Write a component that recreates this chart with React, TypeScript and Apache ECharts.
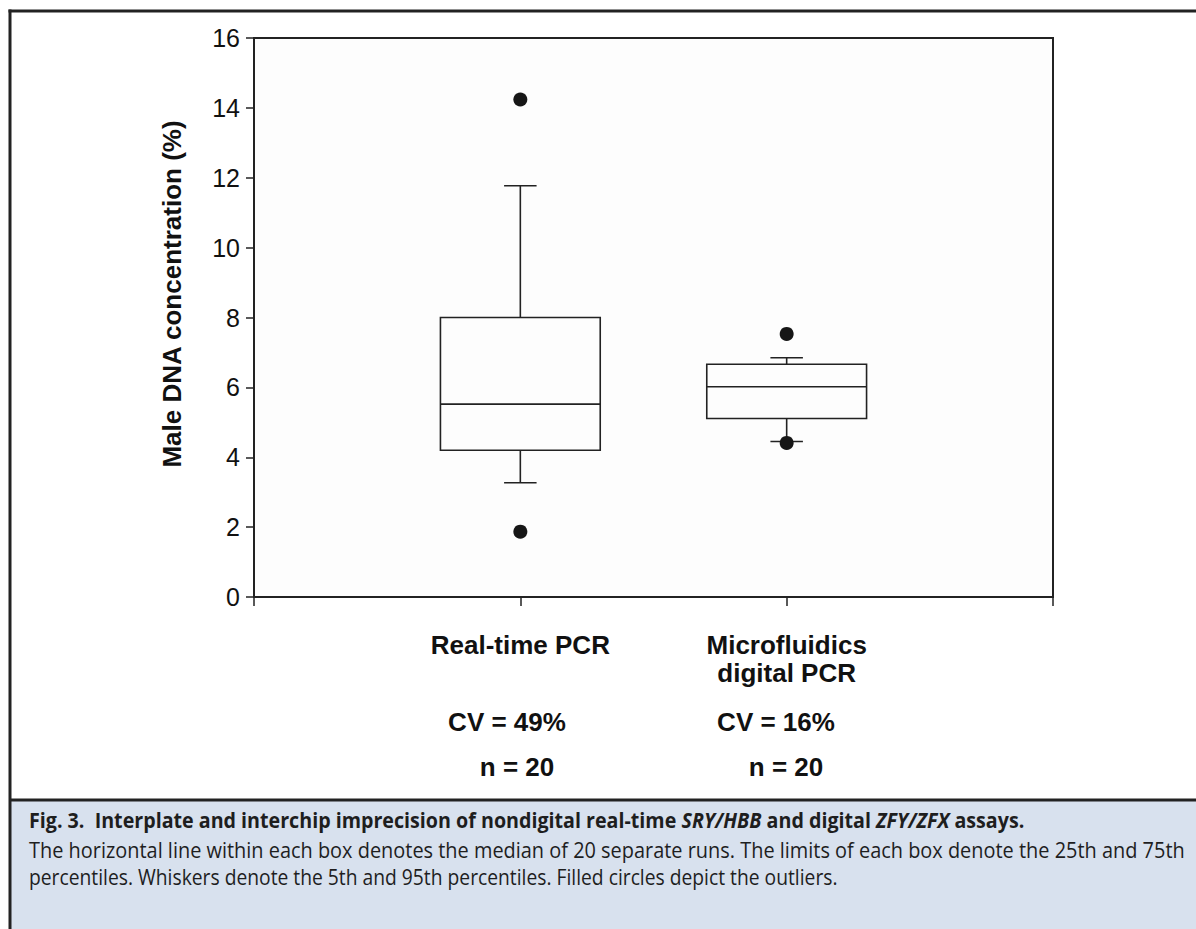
import React, { useEffect, useRef } from "react";
import * as echarts from "echarts";

// ---- data ----
const categories = ["Real-time PCR", "Microfluidics\ndigital PCR"];
const positions = [1, 2];
const whiskerLow = [3.27, 4.45];
const q1 = [4.2, 5.11];
const median = [5.52, 6.02];
const q3 = [8.0, 6.66];
const whiskerHigh = [11.77, 6.85];
const outlierPos = [1, 1, 2, 2];
const outlierVal = [14.24, 1.87, 7.53, 4.41];
const cvLabels = ["CV = 49%", "CV = 16%"];
const nLabels = ["n = 20", "n = 20"];
const yAxisTitle = "Male DNA concentration (%)";
const captionTitleParts: [string, string][] = [
  ["b", "Fig. 3.  Interplate and interchip imprecision of nondigital real-time "],
  ["bi", "SRY/HBB"],
  ["b", " and digital "],
  ["bi", "ZFY/ZFX"],
  ["b", " assays."],
];
const captionLine2 =
  "The horizontal line within each box denotes the median of 20 separate runs. The limits of each box denote the 25th and 75th";
const captionLine3 =
  "percentiles. Whiskers denote the 5th and 95th percentiles. Filled circles depict the outliers.";

const W = 1196;
const H = 929;
const CAP_FONT = "'Open Sans', 'Noto Sans', sans-serif";
const CHART_FONT = "'Liberation Sans', Arial, sans-serif";

function measure(font: string, text: string): number {
  const c = document.createElement("canvas").getContext("2d");
  if (!c) return text.length * 10;
  c.font = font;
  return c.measureText(text).width;
}

export default function App() {
  const ref = useRef<HTMLDivElement>(null);
  useEffect(() => {
    document.body.style.margin = "0";
    if (!ref.current) return;
    const chart = echarts.init(ref.current, undefined, { renderer: "svg" });

    const capSize = 22;
    const titleW = captionTitleParts.reduce(
      (s, [k, t]) =>
        s + measure(`${k === "bi" ? "italic " : ""}bold ${capSize}px ${CAP_FONT}`, t),
      0
    );
    const titleScale = 995 / titleW;
    const l2Scale = 1156 / measure(`${capSize}px ${CAP_FONT}`, captionLine2);
    const l3Scale = 809 / measure(`${capSize}px ${CAP_FONT}`, captionLine3);

    const boxData = positions.map((p, i) => [p, whiskerLow[i], q1[i], median[i], q3[i], whiskerHigh[i]]);
    const outlierData = outlierPos.map((p, i) => [p, outlierVal[i]]);

    const lineStyle = { stroke: "#222", lineWidth: 1.6 };

    const option: any = {
      animation: false,
      backgroundColor: "#ffffff",
      grid: {
        left: 254,
        right: W - 1053,
        top: 38,
        bottom: H - 597,
        show: true,
        borderColor: "#222",
        borderWidth: 2,
        backgroundColor: "#fdfdfd",
      },
      xAxis: {
        type: "value",
        min: 0,
        max: 3,
        interval: 1,
        splitLine: { show: false },
        axisLine: { show: true, lineStyle: { color: "#222", width: 2 } },
        axisTick: { show: true, inside: false, length: 9, lineStyle: { color: "#222", width: 1.5 } },
        axisLabel: {
          show: true,
          margin: 34,
          fontSize: 26,
          lineHeight: 28,
          fontWeight: "bold",
          fontFamily: CHART_FONT,
          color: "#111",
          formatter: (v: number) => {
            const idx = positions.indexOf(v);
            return idx >= 0 ? categories[idx] : "";
          },
        },
      },
      yAxis: {
        type: "value",
        min: 0,
        max: 16,
        interval: 2,
        splitLine: { show: false },
        axisLine: { show: true, lineStyle: { color: "#222", width: 2 } },
        axisTick: { show: true, inside: false, length: 8, lineStyle: { color: "#222", width: 1.5 } },
        axisLabel: {
          margin: 14,
          fontSize: 25,
          fontFamily: CHART_FONT,
          color: "#111",
          padding: [9, 0, 0, 0],
        },
      },
      series: [
        {
          type: "custom",
          data: boxData,
          encode: { x: 0, y: [1, 2, 3, 4, 5] },
          renderItem: (params: any, api: any) => {
            const x = api.value(0);
            const lo = api.value(1);
            const a = api.value(2);
            const m = api.value(3);
            const b = api.value(4);
            const hi = api.value(5);
            const hw = 0.3;
            const cw = 0.061;
            const tl = api.coord([x - hw, b]);
            const br = api.coord([x + hw, a]);
            const mL = api.coord([x - hw, m]);
            const mR = api.coord([x + hw, m]);
            const top = api.coord([x, b]);
            const hiP = api.coord([x, hi]);
            const bot = api.coord([x, a]);
            const loP = api.coord([x, lo]);
            const capHL = api.coord([x - cw, hi]);
            const capHR = api.coord([x + cw, hi]);
            const capLL = api.coord([x - cw, lo]);
            const capLR = api.coord([x + cw, lo]);
            return {
              type: "group",
              children: [
                {
                  type: "rect",
                  shape: { x: tl[0], y: tl[1], width: br[0] - tl[0], height: br[1] - tl[1] },
                  style: { fill: "none", ...lineStyle },
                },
                { type: "line", shape: { x1: mL[0], y1: mL[1], x2: mR[0], y2: mR[1] }, style: lineStyle },
                { type: "line", shape: { x1: top[0], y1: top[1], x2: hiP[0], y2: hiP[1] }, style: lineStyle },
                { type: "line", shape: { x1: capHL[0], y1: capHL[1], x2: capHR[0], y2: capHR[1] }, style: lineStyle },
                { type: "line", shape: { x1: bot[0], y1: bot[1], x2: loP[0], y2: loP[1] }, style: lineStyle },
                { type: "line", shape: { x1: capLL[0], y1: capLL[1], x2: capLR[0], y2: capLR[1] }, style: lineStyle },
              ],
            };
          },
          z: 2,
        },
        {
          type: "scatter",
          data: outlierData,
          symbol: "circle",
          symbolSize: 14,
          itemStyle: { color: "#161616", opacity: 1 },
          z: 3,
        },
      ],
      graphic: [
        // caption background
        {
          type: "rect",
          shape: { x: 10, y: 800, width: W - 10, height: H - 800 },
          style: { fill: "#d8e1ee" },
          z: -10,
        },
        // frame lines
        { type: "line", shape: { x1: 8.5, y1: 11, x2: W, y2: 11 }, style: { stroke: "#222", lineWidth: 3 } },
        { type: "line", shape: { x1: 10, y1: 9.5, x2: 10, y2: H }, style: { stroke: "#222", lineWidth: 3 } },
        { type: "line", shape: { x1: 10, y1: 800, x2: W, y2: 800 }, style: { stroke: "#222", lineWidth: 3 } },
        // y axis title
        {
          type: "text",
          x: 172,
          y: 294,
          rotation: Math.PI / 2,
          style: {
            text: yAxisTitle,
            fontSize: 26,
            fontWeight: "bold",
            fontFamily: CHART_FONT,
            fill: "#111",
            textAlign: "center",
            textVerticalAlign: "middle",
          },
        },
        // CV and n labels
        ...cvLabels.map((t, i) => ({
          type: "text",
          x: [507, 776][i],
          y: 722,
          style: {
            text: t,
            fontSize: 26,
            fontWeight: "bold",
            fontFamily: CHART_FONT,
            fill: "#111",
            textAlign: "center",
            textVerticalAlign: "middle",
          },
        })),
        ...nLabels.map((t, i) => ({
          type: "text",
          x: [517, 786][i],
          y: 767,
          style: {
            text: t,
            fontSize: 26,
            fontWeight: "bold",
            fontFamily: CHART_FONT,
            fill: "#111",
            textAlign: "center",
            textVerticalAlign: "middle",
          },
        })),
        // caption
        {
          type: "text",
          x: 29,
          y: 820,
          scaleX: titleScale,
          style: {
            text: captionTitleParts.map(([k, t]) => `{${k}|${t}}`).join(""),
            rich: {
              b: { fontSize: capSize, fontWeight: "bold", fontFamily: CAP_FONT, fill: "#1e1e1e" },
              bi: { fontSize: capSize, fontWeight: "bold", fontStyle: "italic", fontFamily: CAP_FONT, fill: "#1e1e1e" },
            },
            textAlign: "left",
            textVerticalAlign: "middle",
          },
        },
        {
          type: "text",
          x: 29,
          y: 850,
          scaleX: l2Scale,
          style: {
            text: captionLine2,
            fontSize: capSize,
            fontFamily: CAP_FONT,
            fill: "#1e1e1e",
            textAlign: "left",
            textVerticalAlign: "middle",
          },
        },
        {
          type: "text",
          x: 29,
          y: 876,
          scaleX: l3Scale,
          style: {
            text: captionLine3,
            fontSize: capSize,
            fontFamily: CAP_FONT,
            fill: "#1e1e1e",
            textAlign: "left",
            textVerticalAlign: "middle",
          },
        },
      ],
    };
    chart.setOption(option);
    return () => chart.dispose();
  }, []);
  return <div ref={ref} style={{ width: W, height: H }} />;
}
